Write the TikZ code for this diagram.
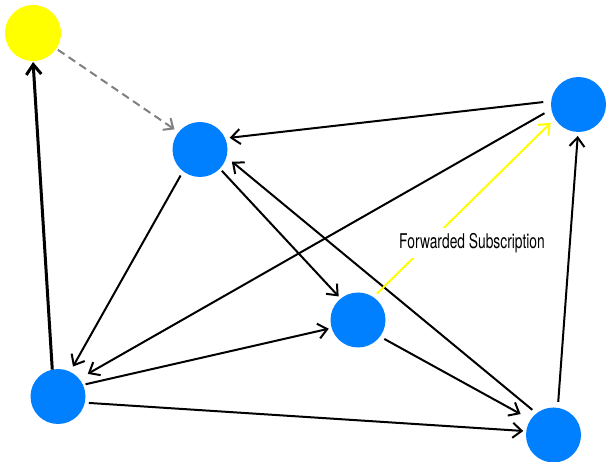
\documentclass[tikz,border=0pt]{standalone}
\usepackage{fontspec}
\usetikzlibrary{arrows.meta}
\newfontfamily\lblfont[FakeStretch=0.68]{TeX Gyre Heros}
\definecolor{nodeblue}{RGB}{0,128,255}
\definecolor{nodeyellow}{RGB}{255,255,0}
\definecolor{dashgray}{RGB}{128,128,128}
\begin{document}
\begin{tikzpicture}[x=1pt,y=-1pt,
  bluenode/.style={circle,fill=nodeblue,minimum size=55pt,inner sep=0pt,outer sep=0pt},
  yellownode/.style={circle,fill=nodeyellow,minimum size=56pt,inner sep=0pt,outer sep=0pt},
  edge/.style={line width=2pt,-{Straight Barb[length=9pt,width=15pt]}},
  thickedge/.style={line width=3pt,-{Straight Barb[length=10pt,width=15pt]}},
  dashededge/.style={line width=2pt,dashgray,dash pattern=on 8pt off 5pt,-{Straight Barb[length=8pt,width=14pt]}},
  fwdedge/.style={line width=2pt,nodeyellow,-{Straight Barb[length=9pt,width=15pt]}},
  lbl/.style={fill=white,inner xsep=2pt,inner ysep=5.5pt,font={\lblfont\fontsize{20.3pt}{21pt}\selectfont}}]
\useasboundingbox (0,0) rectangle (606,462);
\fill[white] (0,0) rectangle (606,462);
\node[yellownode] (Y) at (33,33) {};
\node[bluenode] (A) at (200,149.5) {};
\node[bluenode] (B) at (578.5,104.5) {};
\node[bluenode] (C) at (358,320) {};
\node[bluenode] (D) at (58,396.5) {};
\node[bluenode] (E) at (553.5,435) {};
% connectors
\draw[thickedge,shorten <=0pt,shorten >=1pt] (D.102) -- (Y.-90);
\draw[dashededge,shorten <=2pt,shorten >=5pt] (Y.-34) -- (A.141);
\draw[edge,shorten <=8pt,shorten >=4.5pt] (B.173) -- (A.24);
\draw[edge,shorten <=5.5pt,shorten >=7pt] (E.128) -- (A.-16);
\draw[edge,shorten <=3pt,shorten >=3pt] (A.-44) -- (C.129);
\draw[edge,shorten <=5pt,shorten >=6pt] (A.-128) -- (D.64.5);
\draw[edge,shorten <=8pt,shorten >=10pt] (B.190) -- (D.40);
\draw[edge,shorten <=2.7pt,shorten >=3pt] (D.25.5) -- (C.-163);
\draw[edge,shorten <=4pt,shorten >=3pt] (D.-13.5) -- (E.172);
\draw[edge,shorten <=5pt,shorten >=11.5pt] (C.-37) -- (E.146);
\draw[edge,shorten <=6pt,shorten >=4pt] (E.81) -- (B.-91.5);
\draw[fwdedge,shorten <=5pt,shorten >=6pt] (C.56) -- (B.-149);
\node[lbl] (L) at (472,243) {Forwarded Subscription};
\end{tikzpicture}
\end{document}
